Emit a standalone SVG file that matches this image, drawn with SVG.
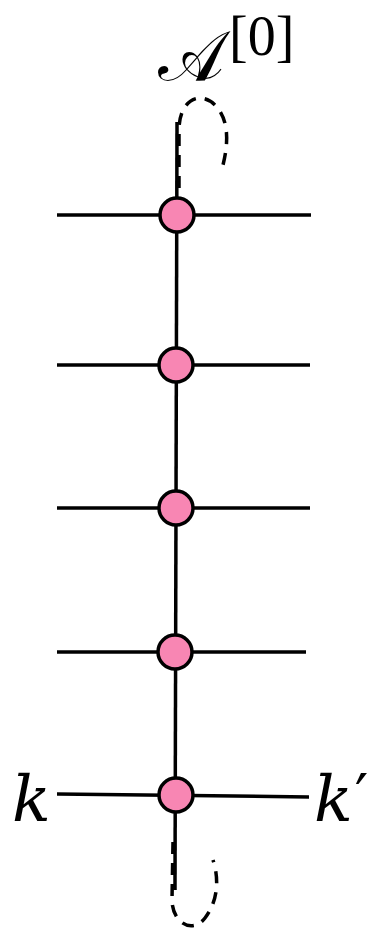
<svg xmlns="http://www.w3.org/2000/svg" width="385" height="937" viewBox="0 0 385 937">
<style>
.ln{stroke:#000;stroke-width:3.5;fill:none}
.ds{stroke:#000;stroke-width:3.5;fill:none;stroke-dasharray:12 9}
.nd{fill:#F886B3;stroke:#000;stroke-width:3.5}
.it{font-family:"DejaVu Serif","Liberation Serif",serif;font-style:italic;fill:#000}
.rm{font-family:"Liberation Serif",serif;fill:#000}
</style>
<g id="connectors">
<line class="ln" x1="177" y1="122" x2="175" y2="890"/>
<line class="ln" x1="57" y1="215" x2="311" y2="215"/>
<line class="ln" x1="57" y1="365" x2="310" y2="365"/>
<line class="ln" x1="57" y1="508" x2="310" y2="508"/>
<line class="ln" x1="57" y1="652" x2="306" y2="652"/>
<line class="ln" x1="57" y1="794" x2="309" y2="797"/>
<path class="ds" d="M179,188 L179,130 C179,100 200,90 215,105 C230,120 228,145 223,165"/>
<path class="ds" d="M173,842 L172,900 C172,922 192,935 205,918 C220,898 218,875 213,860"/>
</g>
<g id="n0"><circle class="nd" cx="177" cy="215" r="17"/></g>
<g id="n1"><circle class="nd" cx="176" cy="365" r="17"/></g>
<g id="n2"><circle class="nd" cx="176" cy="508" r="17"/></g>
<g id="n3"><circle class="nd" cx="175" cy="652" r="17"/></g>
<g id="n4"><circle class="nd" cx="176" cy="795" r="17"/></g>
<g id="labels">
<text x="158" y="80" font-size="70" font-family="serif">𝒜</text>
<text class="rm" x="229" y="55" font-size="56">[0]</text>
<text class="it" x="12" y="821" font-size="64">k</text>
<text class="it" x="314" y="821" font-size="64">k<tspan font-family="DejaVu Sans" font-style="normal" font-size="60" dx="2" dy="-4">′</tspan></text>
</g>
</svg>
